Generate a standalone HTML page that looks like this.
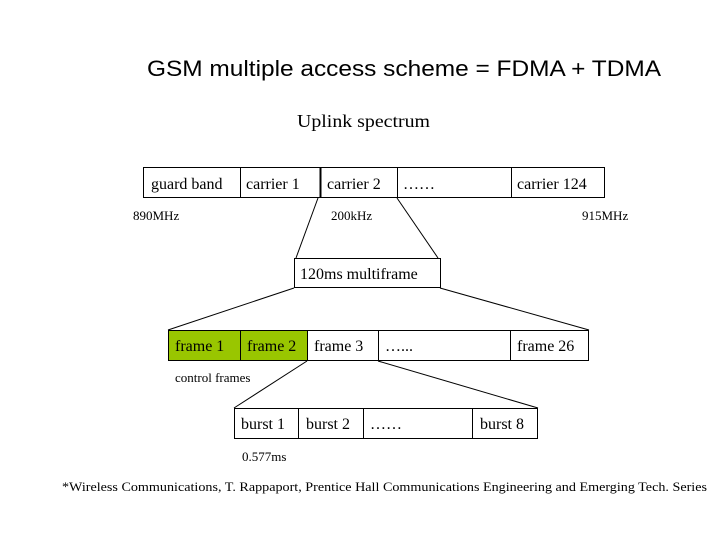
<!DOCTYPE html>
<html><head><meta charset="utf-8"><style>
html,body{margin:0;padding:0;background:#fff;width:720px;height:540px;overflow:hidden}
svg{display:block}
.s{font-family:"Liberation Serif",serif;fill:#000}
</style></head><body>
<svg width="720" height="540" viewBox="0 0 720 540" xmlns="http://www.w3.org/2000/svg">
<text x="147" y="76" font-family="Liberation Sans, sans-serif" font-size="22" textLength="514" lengthAdjust="spacingAndGlyphs">GSM  multiple access scheme = FDMA + TDMA</text>
<text class="s" x="297" y="127" font-size="18" textLength="133" lengthAdjust="spacingAndGlyphs">Uplink spectrum</text>

<g fill="none" stroke="#000" stroke-width="1">
<rect x="143.5" y="167.5" width="461" height="30"/>
<line x1="240.5" y1="167" x2="240.5" y2="198"/>
<line x1="320.5" y1="167" x2="320.5" y2="198" stroke-width="2"/>
<line x1="397.5" y1="167" x2="397.5" y2="198"/>
<line x1="511.5" y1="167" x2="511.5" y2="198"/>
<line x1="318" y1="198" x2="296" y2="258"/>
<line x1="397" y1="198" x2="438" y2="258"/>
<rect x="294.5" y="258.5" width="146" height="29"/>
<line x1="294" y1="288" x2="168" y2="330"/>
<line x1="440" y1="288" x2="589" y2="330"/>
</g>
<rect x="168.5" y="330.5" width="139" height="30" fill="#99c600"/>
<g fill="none" stroke="#000" stroke-width="1">
<rect x="168.5" y="330.5" width="420" height="30"/>
<line x1="240.5" y1="330" x2="240.5" y2="361"/>
<line x1="307.5" y1="330" x2="307.5" y2="361"/>
<line x1="378.5" y1="330" x2="378.5" y2="361"/>
<line x1="510.5" y1="330" x2="510.5" y2="361"/>
<line x1="307" y1="361" x2="234" y2="408"/>
<line x1="378" y1="361" x2="538" y2="408"/>
<rect x="234.5" y="408.5" width="303" height="30"/>
<line x1="298.5" y1="408" x2="298.5" y2="439"/>
<line x1="363.5" y1="408" x2="363.5" y2="439"/>
<line x1="472.5" y1="408" x2="472.5" y2="439"/>
</g>

<g class="s" font-size="16">
<text x="151" y="189">guard band</text>
<text x="246" y="189">carrier 1</text>
<text x="327" y="189">carrier 2</text>
<text x="403" y="189">……</text>
<text x="517" y="189">carrier 124</text>
<text x="300" y="279">120ms multiframe</text>
<text x="175" y="351">frame 1</text>
<text x="247" y="351">frame 2</text>
<text x="314" y="351">frame 3</text>
<text x="385" y="351">…...</text>
<text x="517" y="351">frame 26</text>
<text x="241" y="429">burst 1</text>
<text x="306" y="429">burst 2</text>
<text x="370" y="429">……</text>
<text x="480" y="429">burst 8</text>
</g>
<g class="s" font-size="13">
<text x="133" y="220">890MHz</text>
<text x="331" y="220">200kHz</text>
<text x="582" y="220">915MHz</text>
<text x="175" y="382">control frames</text>
<text x="242" y="461">0.577ms</text>
<text x="62" y="491" textLength="645" lengthAdjust="spacingAndGlyphs">*Wireless Communications, T. Rappaport, Prentice  Hall Communications Engineering and Emerging Tech. Series</text>
</g>
</svg>
</body></html>
